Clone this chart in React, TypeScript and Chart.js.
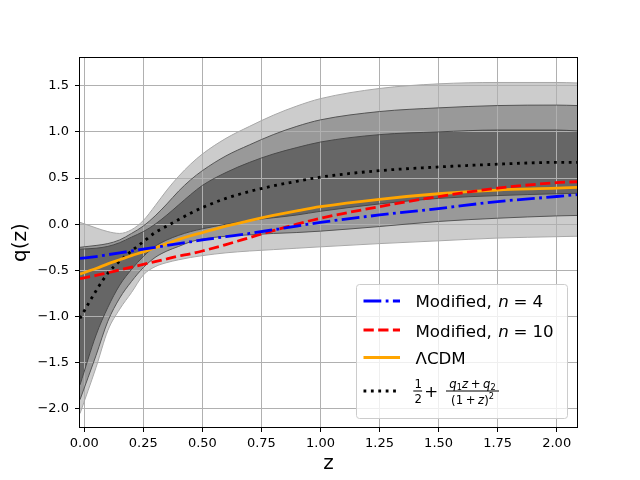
import React, { useEffect, useRef } from "react";
import { Chart, registerables } from "chart.js";

Chart.register(...registerables);

const zGrid = [-0.018, 0.05, 0.1, 0.15, 0.2, 0.25, 0.3, 0.35, 0.4, 0.45, 0.5, 0.6, 0.7, 0.8, 0.9, 1.0, 1.25, 1.5, 1.75, 2.0, 2.086];

const n4Curve = [-0.37, -0.35, -0.33, -0.31, -0.29, -0.27, -0.25, -0.23, -0.21, -0.19, -0.17, -0.135, -0.1, -0.06, -0.02, 0.02, 0.1, 0.17, 0.245, 0.3, 0.32];
const n10Curve = [-0.59, -0.555, -0.525, -0.495, -0.465, -0.435, -0.405, -0.375, -0.345, -0.32, -0.29, -0.22, -0.145, -0.07, 0.0, 0.065, 0.19, 0.3, 0.39, 0.45, 0.46];
const lcdmCurve = [-0.54, -0.48, -0.43, -0.385, -0.34, -0.3, -0.255, -0.21, -0.165, -0.125, -0.09, -0.02, 0.04, 0.095, 0.145, 0.19, 0.27, 0.33, 0.37, 0.39, 0.4];
const fitCurve = [-1.02, -0.72, -0.53, -0.4, -0.29, -0.19, -0.09, -0.02, 0.05, 0.12, 0.18, 0.28, 0.355, 0.415, 0.465, 0.51, 0.58, 0.62, 0.65, 0.67, 0.67];

const sigma1Upper = [-0.27, -0.26, -0.24, -0.2, -0.14, -0.08, 0.0, 0.1, 0.21, 0.32, 0.42, 0.56, 0.67, 0.76, 0.83, 0.89, 0.97, 1.0, 1.02, 1.02, 1.01];
const sigma1Lower = [-1.74, -1.2, -0.9, -0.66, -0.49, -0.35, -0.24, -0.17, -0.12, -0.08, -0.05, 0.0, 0.04, 0.07, 0.1, 0.14, 0.22, 0.28, 0.31, 0.33, 0.335];
const sigma2Upper = [-0.25, -0.23, -0.21, -0.17, -0.1, -0.02, 0.09, 0.22, 0.36, 0.48, 0.58, 0.74, 0.86, 0.97, 1.06, 1.13, 1.22, 1.26, 1.285, 1.29, 1.285];
const sigma2Lower = [-1.9, -1.42, -1.05, -0.8, -0.62, -0.47, -0.36, -0.29, -0.24, -0.19, -0.16, -0.13, -0.115, -0.1, -0.09, -0.075, -0.025, 0.03, 0.065, 0.09, 0.095];
const sigma3Upper = [0.02, -0.04, -0.08, -0.1, -0.06, 0.04, 0.2, 0.37, 0.52, 0.65, 0.76, 0.93, 1.06, 1.18, 1.28, 1.36, 1.47, 1.52, 1.535, 1.535, 1.53];
const sigma3Lower = [-2.05, -1.55, -1.15, -0.92, -0.74, -0.55, -0.46, -0.415, -0.385, -0.36, -0.34, -0.31, -0.29, -0.275, -0.26, -0.245, -0.21, -0.18, -0.15, -0.135, -0.13];

const xTicks = [0, 0.25, 0.5, 0.75, 1.0, 1.25, 1.5, 1.75, 2.0];
const yTicks = [-2.0, -1.5, -1.0, -0.5, 0.0, 0.5, 1.0, 1.5];

const pts = (ys: number[]) => zGrid.map((z, i) => ({ x: z, y: ys[i] }));

const FONT = '"DejaVu Sans"';
const F = (px: number, italic = false) => `${italic ? "italic " : ""}${px}px ${FONT}`;

type Seg = { t: string; f: string; dy?: number; gap?: number };

const runWidth = (ctx: CanvasRenderingContext2D, segs: Seg[]) =>
  segs.reduce((s, g) => {
    ctx.font = g.f;
    return s + (g.gap ?? 0) + ctx.measureText(g.t).width;
  }, 0);

const drawRun = (ctx: CanvasRenderingContext2D, segs: Seg[], x: number, y: number) => {
  for (const g of segs) {
    x += g.gap ?? 0;
    ctx.font = g.f;
    ctx.fillText(g.t, x, y + (g.dy ?? 0));
    x += ctx.measureText(g.t).width;
  }
  return x;
};

// box round the plot area, like matplotlib spines
const framePlugin = {
  id: "frame",
  afterDatasetsDraw(chart: any) {
    const { ctx, chartArea } = chart;
    ctx.save();
    ctx.strokeStyle = "#000";
    ctx.lineWidth = 1;
    ctx.strokeRect(chartArea.left - 0.5, chartArea.top - 0.5, chartArea.right - chartArea.left + 1, chartArea.bottom - chartArea.top + 1);
    ctx.restore();
  },
};

// legend with the math labels drawn by hand
const legendPlugin = {
  id: "mplLegend",
  afterDraw(chart: any) {
    const { ctx, chartArea } = chart;
    const bx = chartArea.right - 220.5;
    const by = chartArea.bottom - 142.5;
    const bw = 211;
    const bh = 134;
    ctx.save();
    ctx.fillStyle = "rgba(255,255,255,0.8)";
    ctx.strokeStyle = "#cccccc";
    ctx.lineWidth = 1;
    ctx.beginPath();
    ctx.roundRect(bx, by, bw, bh, 3);
    ctx.fill();
    ctx.stroke();

    const rowsY = [by + 16.5, by + 45.5, by + 73, by + 106.5];
    const hx1 = bx + 7;
    const hx2 = bx + 43.5;
    for (let i = 0; i < 4; i++) {
      const ds = chart.data.datasets[i];
      ctx.strokeStyle = ds.borderColor;
      ctx.lineWidth = ds.borderWidth;
      ctx.lineCap = "butt";
      ctx.setLineDash(ds.borderDash || []);
      ctx.beginPath();
      ctx.moveTo(hx1, rowsY[i]);
      ctx.lineTo(hx2, rowsY[i]);
      ctx.stroke();
    }
    ctx.setLineDash([]);

    ctx.fillStyle = "#000";
    ctx.textBaseline = "alphabetic";
    ctx.textAlign = "left";
    const tx = bx + 59;
    const big = 16.67;
    drawRun(ctx, [
      { t: "Modified,", f: F(big) },
      { t: "n", f: F(big, true), gap: 6.5 },
      { t: "=", f: F(big), gap: 4.5 },
      { t: "4", f: F(big), gap: 5 },
    ], tx, rowsY[0] + 6);
    drawRun(ctx, [
      { t: "Modified,", f: F(big) },
      { t: "n", f: F(big, true), gap: 6.5 },
      { t: "=", f: F(big), gap: 4.5 },
      { t: "10", f: F(big), gap: 5 },
    ], tx, rowsY[1] + 6.5);
    drawRun(ctx, [{ t: "ΛCDM", f: F(big) }], tx, rowsY[2] + 6);

    // 1/2 + (q1 z + q2)/(1+z)^2
    const small = 11.67;
    const sub = 8.2;
    const axisY = rowsY[3];
    ctx.textAlign = "center";
    ctx.font = F(small);
    ctx.fillText("1", tx + 2.6, axisY - 3.3);
    ctx.fillText("2", tx + 2.8, axisY + 11.5);
    ctx.fillRect(tx - 2.2, axisY - 0.5, 8.8, 1);
    ctx.font = F(big);
    ctx.fillText("+", tx + 15.8, axisY + 6.3);
    ctx.textAlign = "left";

    const fx1 = tx + 30.5;
    const fx2 = tx + 83.5;
    const fc = (fx1 + fx2) / 2;
    ctx.fillRect(fx1, axisY - 0.5, fx2 - fx1, 1);
    const numer: Seg[] = [
      { t: "q", f: F(small, true) },
      { t: "1", f: F(sub), dy: 2 },
      { t: "z", f: F(small, true) },
      { t: "+", f: F(small), gap: 2.6 },
      { t: "q", f: F(small, true), gap: 2.6 },
      { t: "2", f: F(sub), dy: 2 },
    ];
    drawRun(ctx, numer, fc - runWidth(ctx, numer) / 2, axisY - 3.5);
    const denom: Seg[] = [
      { t: "(1", f: F(small) },
      { t: "+", f: F(small), gap: 2.6 },
      { t: "z", f: F(small, true), gap: 2.6 },
      { t: ")", f: F(small) },
      { t: "2", f: F(sub), dy: -5 },
    ];
    drawRun(ctx, denom, fc - runWidth(ctx, denom) / 2, axisY + 12.5);
    ctx.restore();
  },
};

const bandEdge = (data: number[], edge: string, fillColor: string | null) => ({
  data: pts(data),
  borderColor: edge,
  borderWidth: 1,
  backgroundColor: fillColor ?? "transparent",
  fill: fillColor ? "+1" : false,
  pointRadius: 0,
  cubicInterpolationMode: "monotone" as const,
});

const App: React.FC = () => {
  const canvasRef = useRef<HTMLCanvasElement>(null);

  useEffect(() => {
    document.body.style.margin = "0";
    if (!canvasRef.current) return;

    const chart = new Chart(canvasRef.current, {
      type: "line",
      data: {
        datasets: [
          {
            label: "Modified, n = 4",
            data: pts(n4Curve),
            borderColor: "#0000ff",
            borderWidth: 2.8,
            borderDash: [17.8, 4.4, 2.8, 4.4],
            pointRadius: 0,
            fill: false,
            cubicInterpolationMode: "monotone",
          },
          {
            label: "Modified, n = 10",
            data: pts(n10Curve),
            borderColor: "#ff0000",
            borderWidth: 2.8,
            borderDash: [10.3, 4.4],
            pointRadius: 0,
            fill: false,
            cubicInterpolationMode: "monotone",
          },
          {
            label: "ΛCDM",
            data: pts(lcdmCurve),
            borderColor: "#ffa500",
            borderWidth: 2.8,
            pointRadius: 0,
            fill: false,
            cubicInterpolationMode: "monotone",
          },
          {
            label: "1/2 + (q1 z + q2)/(1+z)^2",
            data: pts(fitCurve),
            borderColor: "#000000",
            borderWidth: 2.8,
            borderDash: [2.8, 4.6],
            pointRadius: 0,
            fill: false,
            cubicInterpolationMode: "monotone",
          },
          bandEdge(sigma1Upper, "#4a4a4a", "#666666"),
          bandEdge(sigma1Lower, "#4a4a4a", null),
          bandEdge(sigma2Upper, "#555555", "#999999"),
          bandEdge(sigma2Lower, "#555555", null),
          bandEdge(sigma3Upper, "#a8a8a8", "#cccccc"),
          bandEdge(sigma3Lower, "#a8a8a8", null),
        ] as any,
      },
      options: {
        animation: false,
        responsive: false,
        events: [],
        layout: { padding: { left: 0, right: 63, top: 58, bottom: 0 } },
        plugins: {
          legend: { display: false },
          tooltip: { enabled: false },
          filler: { drawTime: "beforeDraw" },
        } as any,
        scales: {
          x: {
            type: "linear",
            min: -0.018,
            max: 2.086,
            afterBuildTicks: (scale: any) => {
              scale.ticks = xTicks.map((v) => ({ value: v }));
            },
            afterFit: (scale: any) => {
              scale.height = 53;
            },
            grid: { color: "#b0b0b0", lineWidth: 1, tickColor: "#000", tickLength: 5, tickWidth: 1 },
            border: { display: false },
            ticks: {
              color: "#000",
              font: { family: FONT, size: 13 },
              padding: 4,
              maxRotation: 0,
              autoSkip: false,
              callback: (v: any) => Number(v).toFixed(2),
            },
            title: {
              display: true,
              text: "z",
              color: "#000",
              font: { family: FONT, size: 20 },
              padding: { top: 0, bottom: 4 },
            },
          },
          y: {
            type: "linear",
            min: -2.196,
            max: 1.8,
            afterBuildTicks: (scale: any) => {
              scale.ticks = yTicks.map((v) => ({ value: v }));
            },
            afterFit: (scale: any) => {
              scale.width = 80;
            },
            grid: { color: "#b0b0b0", lineWidth: 1, tickColor: "#000", tickLength: 5, tickWidth: 1 },
            border: { display: false },
            ticks: {
              color: "#000",
              font: { family: FONT, size: 13 },
              padding: 6,
              autoSkip: false,
              callback: (v: any) => Number(v).toFixed(1).replace("-", "\u2212"),
            },
            title: {
              display: true,
              text: "q(z)",
              color: "#000",
              font: { family: FONT, size: 20 },
              padding: { top: 9, bottom: 0 },
            },
          },
        },
      },
      plugins: [framePlugin, legendPlugin],
    });

    return () => {
      chart.destroy();
    };
  }, []);

  return (
    <div style={{ width: 640, height: 480, background: "#fff" }}>
      <canvas ref={canvasRef} width={640} height={480} />
    </div>
  );
};

export default App;
